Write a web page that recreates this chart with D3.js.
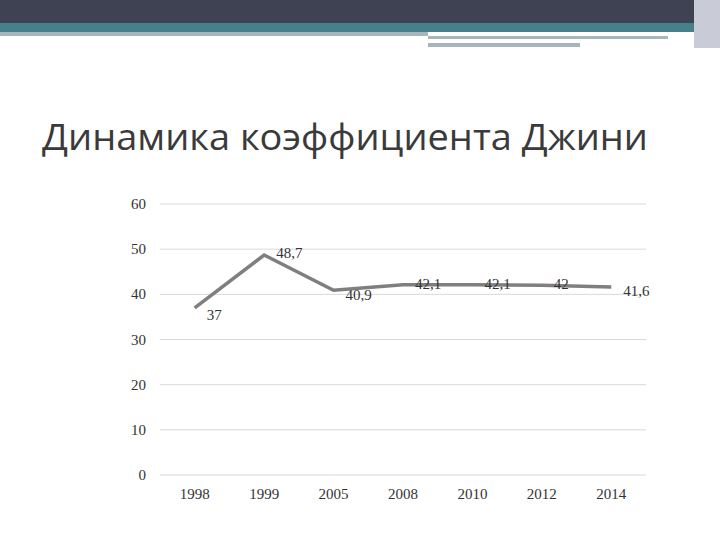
<!DOCTYPE html><html><head><meta charset="utf-8"><script src="https://cdn.jsdelivr.net/npm/d3@7"></script>
<style>body{margin:0;background:#fff}</style></head><body><svg id="c" width="720" height="540"></svg>
<script>
const years=["1998","1999","2005","2008","2010","2012","2014"];
const gini=[37,48.7,40.9,42.1,42.1,42,41.6];
const yTicks=[0,10,20,30,40,50,60];
const svg=d3.select("#c");
svg.append("rect").attr("x",0).attr("y",0).attr("width",720).attr("height",23).attr("fill","#3e4253");
svg.append("rect").attr("x",0).attr("y",23).attr("width",720).attr("height",9).attr("fill","#468189");
svg.append("rect").attr("x",0).attr("y",32).attr("width",428).attr("height",4).attr("fill","#a7b6ba");
svg.append("rect").attr("x",428).attr("y",36).attr("width",240).attr("height",3).attr("fill","#a7b6ba");
svg.append("rect").attr("x",428).attr("y",43).attr("width",152).attr("height",4).attr("fill","#a7b6ba");
svg.append("rect").attr("x",694).attr("y",0).attr("width",26).attr("height",48).attr("fill","#c9ccd6");
svg.append("text").attr("x",42).attr("y",150).attr("font-family","Open Sans").attr("font-size",37).attr("fill","#3a3a3a").attr("textLength",606).attr("lengthAdjust","spacingAndGlyphs").text("Динамика коэффициента Джини");
const x=d3.scaleBand().domain(years).range([160,646]);
const y=d3.scaleLinear().domain([0,60]).range([475,204]);
const g=svg.append("g");
yTicks.forEach(t=>{
 g.append("line").attr("x1",160).attr("x2",646).attr("y1",y(t)).attr("y2",y(t)).attr("stroke","#d9d9d9");
 g.append("text").attr("x",146).attr("y",y(t)+5).attr("text-anchor","end").attr("font-family","Liberation Serif").attr("font-size",15).attr("fill","#333").text(t);
});
years.forEach(yr=>g.append("text").attr("x",x(yr)+x.bandwidth()/2).attr("y",499).attr("text-anchor","middle").attr("font-family","Liberation Serif").attr("font-size",15).attr("fill","#333").text(yr));
const cx=d=>x(d)+x.bandwidth()/2;
g.append("path").attr("d",d3.line().x((d,i)=>cx(years[i])).y(d=>y(d))(gini)).attr("fill","none").attr("stroke","#7f7f7f").attr("stroke-width",3.5);
const off=[[12,7],[12,-2],[12,5],[12,-1],[12,-1],[12,-1],[12,4]];
gini.forEach((v,i)=>g.append("text").attr("x",cx(years[i])+off[i][0]).attr("y",y(v)+off[i][1]+5).attr("font-family","Liberation Serif").attr("font-size",15).attr("fill","#333").text(String(v).replace(".",",")));
</script></body></html>
